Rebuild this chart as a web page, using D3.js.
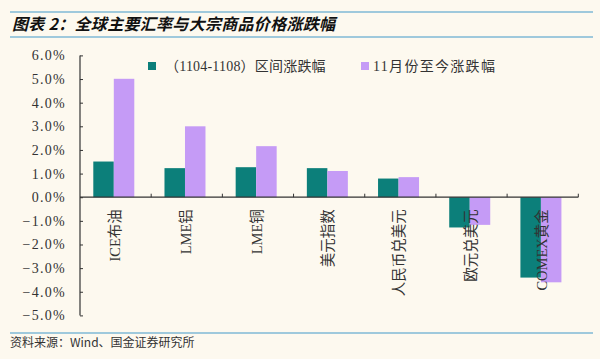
<!DOCTYPE html>
<html>
<head>
<meta charset="utf-8">
<script src="https://cdn.jsdelivr.net/npm/d3@7"></script>
<style>
  html, body { margin: 0; padding: 0; background: #fdf9ef; }
  svg { display: block; }
</style>
</head>
<body>
<div id="chart"></div>
<script>
const categories = ["ICE布油", "LME铝", "LME铜", "美元指数", "人民币兑美元", "欧元兑美元", "COMEX黄金"];
const seriesNames = ["（1104-1108）区间涨跌幅", "11月份至今涨跌幅"];
const periodChange = [1.51, 1.23, 1.27, 1.23, 0.79, -1.28, -3.40];
const monthToDate = [5.01, 3.00, 2.16, 1.11, 0.85, -1.17, -3.60];
const yTicks = [6, 5, 4, 3, 2, 1, 0, -1, -2, -3, -4, -5];
const titleText = "图表 2：全球主要汇率与大宗商品价格涨跌幅";
const sourceText = "资料来源：Wind、国金证券研究所";
const colors = ["#0c7f7a", "#c59bf6"];

const W = 600, H = 359;
const svg = d3.select("#chart").append("svg").attr("width", W).attr("height", H);
svg.append("rect").attr("width", W).attr("height", H).attr("fill", "#fdf9ef");

// header / footer rules
const ruleColor = "#7fb8d6";
[12, 37, 333].forEach(y => {
  svg.append("line").attr("x1", 10).attr("x2", 593).attr("y1", y).attr("y2", y)
    .attr("stroke", ruleColor).attr("stroke-width", 1.6);
});
svg.append("text").attr("x", 12).attr("y", 30)
  .attr("font-family", "'Noto Sans CJK SC', sans-serif")
  .attr("font-size", 16).attr("font-weight", "bold").attr("font-style", "italic")
  .attr("letter-spacing", 0.3)
  .attr("fill", "#111").text(titleText);
svg.append("text").attr("x", 10).attr("y", 347)
  .attr("font-family", "'Noto Sans CJK SC', sans-serif")
  .attr("font-size", 12).attr("fill", "#333").text(sourceText);

const y = d3.scaleLinear().domain([-5, 6]).range([315.4, 55.4]);
const x = d3.scaleBand().domain(categories).range([80, 578.3]).padding(0);
const x1 = d3.scaleBand().domain([0, 1]).range([13.3, 54.3]).padding(0);

const data = categories.map((c, i) => ({ c, v: [periodChange[i], monthToDate[i]] }));

// bars
const g = svg.append("g");
data.forEach(d => {
  d.v.forEach((v, k) => {
    g.append("rect")
      .attr("x", x(d.c) + x1(k))
      .attr("width", x1.bandwidth())
      .attr("y", y(Math.max(0, v)))
      .attr("height", Math.abs(y(v) - y(0)))
      .attr("fill", colors[k]);
  });
});

// y axis
const yAxis = d3.axisRight(y).tickValues(yTicks).tickSize(3).tickFormat("");
const ya = svg.append("g").attr("transform", "translate(80,0)").call(yAxis);
ya.select(".domain").attr("stroke", "#333").attr("stroke-width", 1.2).attr("d", `M0,${y(6)}V${y(-5)}`);
ya.selectAll(".tick line").attr("stroke", "#333");
svg.append("g").selectAll("text").data(yTicks).join("text")
  .attr("x", 66).attr("y", d => y(d) + 5)
  .attr("text-anchor", "end")
  .attr("font-family", "'Liberation Serif', serif")
  .attr("font-size", 14).attr("letter-spacing", 1.3)
  .attr("fill", "#333")
  .text(d => d3.format(".1f")(d) + "%");

// x axis at zero
const xa = svg.append("g").attr("transform", `translate(0,${y(0)})`);
xa.append("line").attr("x1", 80).attr("x2", 578.3).attr("y1", 0).attr("y2", 0)
  .attr("stroke", "#333").attr("stroke-width", 1.2);
xa.selectAll(".xt").data(categories.slice(1).concat(["__end"])).join("line")
  .attr("class", "xt")
  .attr("x1", (d, i) => 80 + x.bandwidth() * (i + 1))
  .attr("x2", (d, i) => 80 + x.bandwidth() * (i + 1))
  .attr("y1", 0).attr("y2", -3.5).attr("stroke", "#333");

// category labels (rotated)
svg.append("g").selectAll("text").data(categories).join("text")
  .attr("transform", d => `translate(${x(d) + x.bandwidth() / 2 + 4},${y(0) + 12}) rotate(-90)`)
  .attr("text-anchor", "end")
  .attr("font-family", "'Liberation Serif', 'Noto Sans CJK SC', serif")
  .attr("font-size", 14.5).attr("fill", "#333")
  .text(d => d);

// legend
const legendX = [148, 361];
const legendTextX = [165, 373];
seriesNames.forEach((s, k) => {
  svg.append("rect").attr("x", legendX[k]).attr("y", 62).attr("width", 8).attr("height", 8).attr("fill", colors[k]);
  svg.append("text").attr("x", legendTextX[k]).attr("y", 71)
    .attr("font-family", "'Liberation Serif', 'Noto Sans CJK SC', serif")
    .attr("font-size", 14).attr("fill", "#333")
    .attr("letter-spacing", k === 0 ? 0.2 : 1.3)
    .text(s);
});
</script>
</body>
</html>
